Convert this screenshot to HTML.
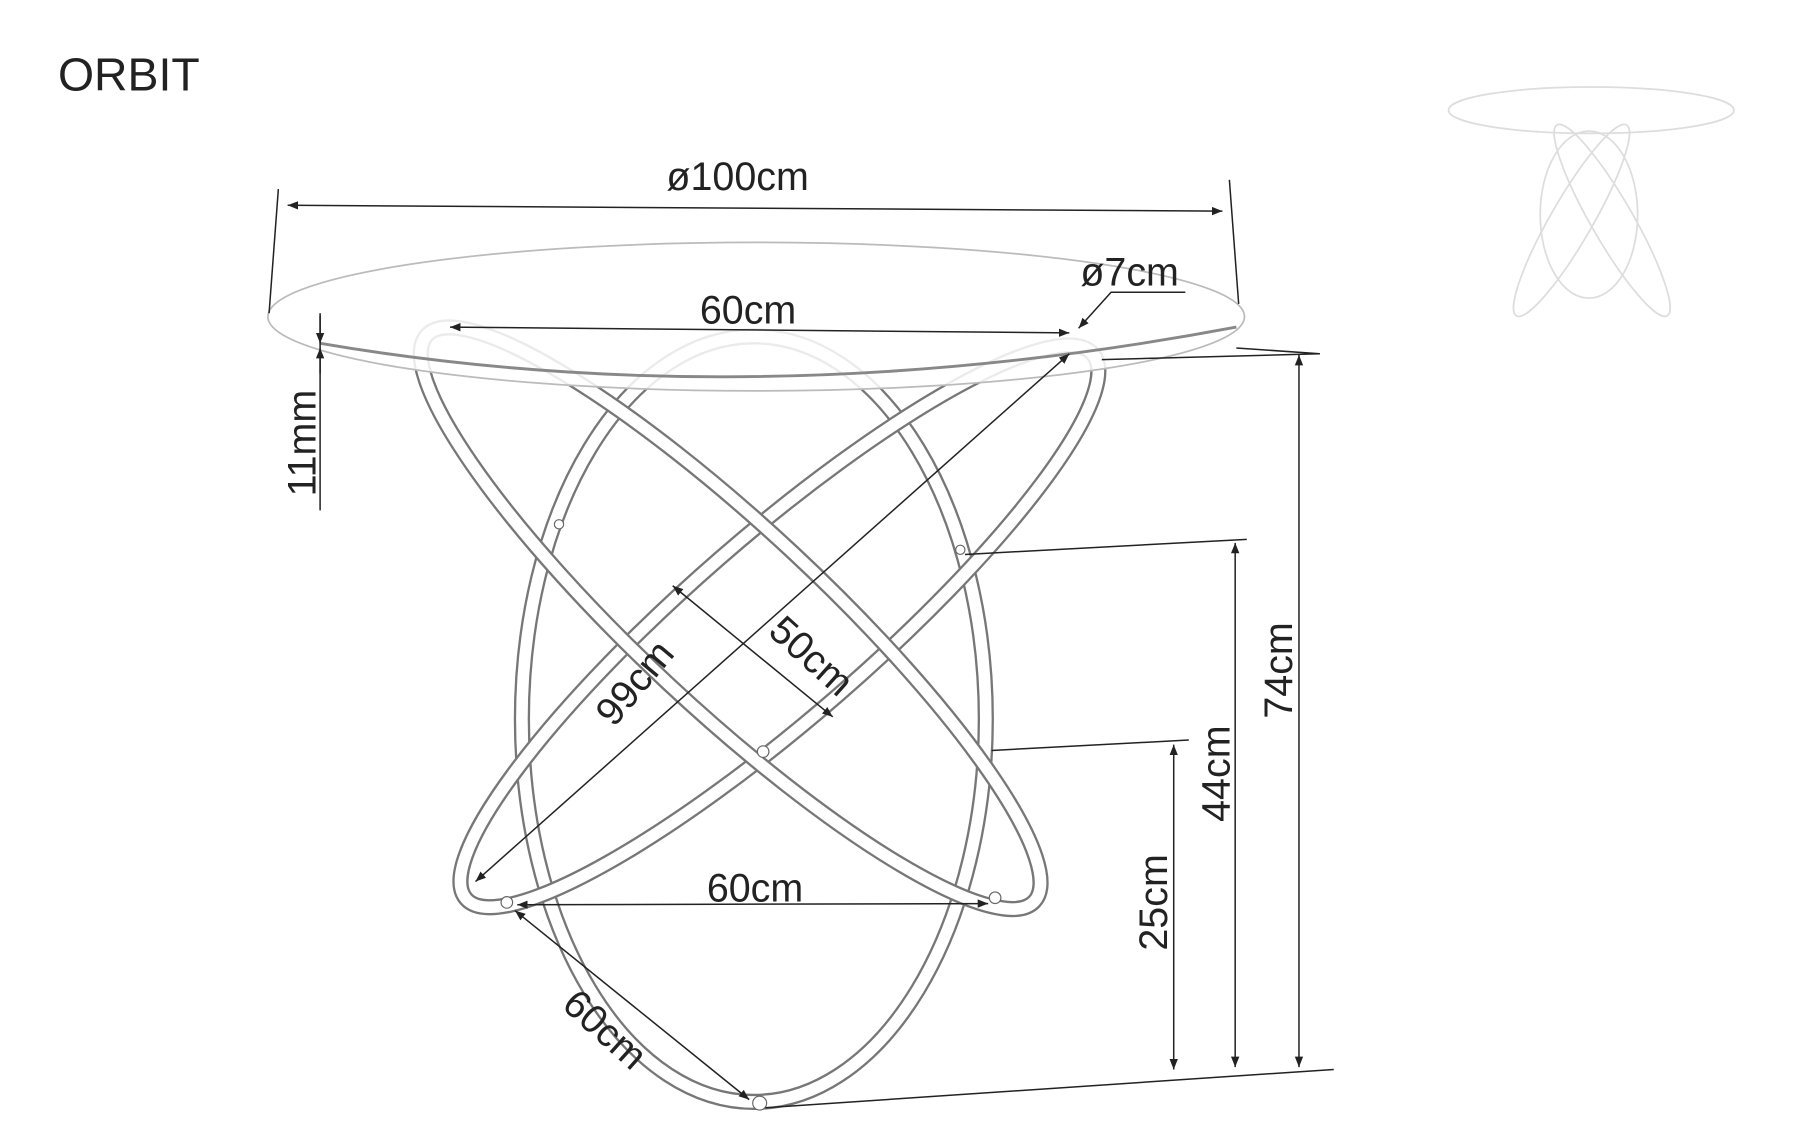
<!DOCTYPE html>
<html><head><meta charset="utf-8"><style>
html,body{margin:0;padding:0;background:#fff;}
svg{display:block;}
text{font-family:"Liberation Sans",sans-serif;fill:#222;}
</style></head><body>
<svg width="1800" height="1146" viewBox="0 0 1552 988" preserveAspectRatio="none" xmlns="http://www.w3.org/2000/svg">
<defs>
<marker id="a" viewBox="0 0 10 10" refX="10" refY="5" markerWidth="9" markerHeight="9" orient="auto-start-reverse" markerUnits="userSpaceOnUse"><path d="M0,1 L10,5 L0,9 z" fill="#222"/></marker>
</defs>
<rect width="1552" height="988" fill="#fff"/>
<text x="50" y="78" font-size="40">ORBIT</text>

<!-- legs -->
<g fill="none">
<ellipse cx="650" cy="620" rx="200" ry="330" stroke="#777" stroke-width="14"/>
<ellipse cx="650" cy="620" rx="200" ry="330" stroke="#fff" stroke-width="10"/>
<ellipse cx="672" cy="540" rx="358" ry="78" transform="rotate(-41 672 540)" stroke="#777" stroke-width="14"/>
<ellipse cx="672" cy="540" rx="358" ry="78" transform="rotate(-41 672 540)" stroke="#fff" stroke-width="10"/>
<ellipse cx="630" cy="533" rx="358" ry="78" transform="rotate(43 630 533)" stroke="#777" stroke-width="14"/>
<ellipse cx="630" cy="533" rx="358" ry="78" transform="rotate(43 630 533)" stroke="#fff" stroke-width="10"/>
</g>
<circle cx="437" cy="778" r="5" fill="#fff" stroke="#666"/>
<circle cx="858" cy="774" r="5" fill="#fff" stroke="#666"/>
<circle cx="655" cy="951" r="6" fill="#fff" stroke="#666"/>
<circle cx="658" cy="648" r="5" fill="#fff" stroke="#666"/>
<circle cx="482" cy="452" r="4" fill="#fff" stroke="#666"/>
<circle cx="828" cy="474" r="4" fill="#fff" stroke="#666"/>

<!-- tabletop -->
<ellipse cx="652" cy="273" rx="421" ry="64" fill="#fff" fill-opacity="0.85" stroke="#bbb" stroke-width="1.5"/>
<path d="M276,296 Q652,360 1066,282" fill="none" stroke="#888" stroke-width="2.5"/>

<!-- dimension lines -->
<g stroke="#222" stroke-width="1.3" fill="none">
<line x1="240" y1="163" x2="232" y2="270"/>
<line x1="1060" y1="155" x2="1068" y2="262"/>
<line x1="248" y1="177" x2="1054" y2="182" marker-start="url(#a)" marker-end="url(#a)"/>
<line x1="388" y1="282" x2="922" y2="287" marker-start="url(#a)" marker-end="url(#a)"/>
<polyline points="1022,252 958,252 930,283" marker-end="url(#a)"/>
<line x1="276" y1="272" x2="276" y2="440"/>
<line x1="276" y1="270" x2="276" y2="296" marker-end="url(#a)"/>
<line x1="276" y1="322" x2="276" y2="300" marker-end="url(#a)"/>
<line x1="922" y1="305" x2="410" y2="760" marker-start="url(#a)" marker-end="url(#a)"/>
<line x1="580" y1="505" x2="718" y2="618" marker-start="url(#a)" marker-end="url(#a)"/>
<line x1="446" y1="780" x2="852" y2="779" marker-start="url(#a)" marker-end="url(#a)"/>
<line x1="444" y1="785" x2="646" y2="948" marker-start="url(#a)" marker-end="url(#a)"/>
<line x1="1066" y1="300" x2="1138" y2="305"/>
<line x1="950" y1="310" x2="1138" y2="305"/>
<line x1="1120" y1="306" x2="1120" y2="920" marker-start="url(#a)" marker-end="url(#a)"/>
<line x1="832" y1="478" x2="1075" y2="465"/>
<line x1="1065" y1="468" x2="1065" y2="920" marker-start="url(#a)" marker-end="url(#a)"/>
<line x1="855" y1="647" x2="1025" y2="638"/>
<line x1="1012" y1="642" x2="1012" y2="922" marker-start="url(#a)" marker-end="url(#a)"/>
<line x1="660" y1="955" x2="1150" y2="922"/>
</g>

<g font-size="34">
<text x="636" y="164" text-anchor="middle">ø100cm</text>
<text x="645" y="279" text-anchor="middle">60cm</text>
<text x="974" y="246" text-anchor="middle">ø7cm</text>
<text x="651" y="777" text-anchor="middle">60cm</text>
<text transform="translate(272,382) rotate(-90)" text-anchor="middle">11mm</text>
<text transform="translate(556,596) rotate(-50)" text-anchor="middle">99cm</text>
<text transform="translate(692,574) rotate(42)" text-anchor="middle">50cm</text>
<text transform="translate(514,896) rotate(42)" text-anchor="middle">60cm</text>
<text transform="translate(1114,578) rotate(-90)" text-anchor="middle">74cm</text>
<text transform="translate(1060,667) rotate(-90)" text-anchor="middle">44cm</text>
<text transform="translate(1006,778) rotate(-90)" text-anchor="middle">25cm</text>
</g>

<!-- small thumbnail -->
<g fill="none" stroke="#ddd" stroke-width="1.5">
<ellipse cx="1372" cy="95" rx="123" ry="20"/>
<ellipse cx="1370" cy="185" rx="42" ry="72"/>
<ellipse cx="1355" cy="190" rx="95" ry="18" transform="rotate(-60 1355 190)"/>
<ellipse cx="1390" cy="190" rx="95" ry="18" transform="rotate(60 1390 190)"/>
</g>
</svg>
</body></html>
